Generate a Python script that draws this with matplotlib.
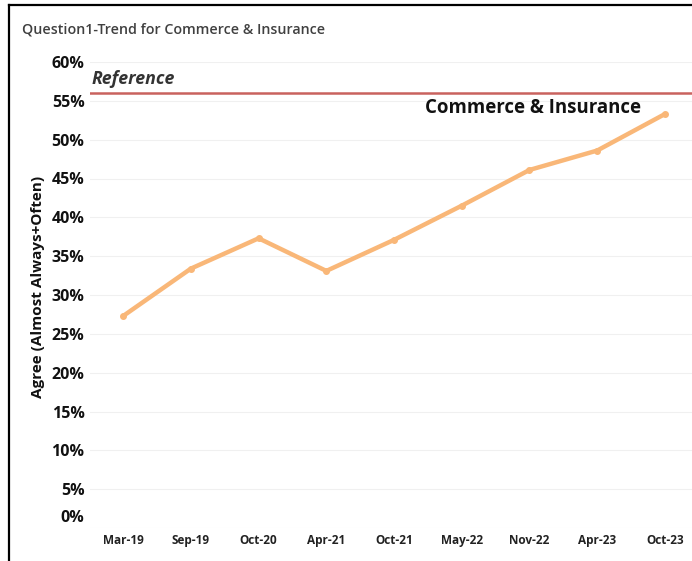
import matplotlib
matplotlib.use("Agg")
import matplotlib.pyplot as plt
import matplotlib.transforms as mtransforms
from matplotlib.lines import Line2D
from matplotlib.ticker import FuncFormatter

periods = ["Mar-19", "Sep-19", "Oct-20", "Apr-21", "Oct-21", "May-22", "Nov-22", "Apr-23", "Oct-23"]
agree = [27.3, 33.4, 37.3, 33.1, 37.1, 41.5, 46.1, 48.6, 53.3]
reference_value = 56.0
y_ticks = [0, 5, 10, 15, 20, 25, 30, 35, 40, 45, 50, 55, 60]

plt.rcParams['font.family'] = ['Open Sans', 'DejaVu Sans']

fig = plt.figure(figsize=(6.92, 5.61), dpi=100)
ax = fig.add_axes([90/692, 1 - 528/561, 1 - 90/692, (528 - 62)/561])

x = list(range(len(periods)))
ax.plot(x, agree, color="#F9B778", linewidth=3.2, marker="o", markersize=4,
        solid_capstyle="round", zorder=3)
ax.axhline(reference_value, color="#C9625E", linewidth=1.8, zorder=2)

ax.set_xlim(-0.49, 8.4)
ax.set_ylim(0, 60)
ax.set_yticks(y_ticks)
ax.yaxis.set_major_formatter(FuncFormatter(lambda v, p: f"{int(v)}%"))
ax.set_xticks(x)
ax.set_xticklabels(periods)
ax.grid(axis="y", color="#F0F0F0", linewidth=0.8)
ax.set_axisbelow(True)
for s in ax.spines.values():
    s.set_visible(False)
ax.tick_params(axis="both", length=0)
ax.tick_params(axis="y", pad=4, labelsize=11.5, labelcolor="#111111")
ax.tick_params(axis="x", pad=4, labelsize=8.5, labelcolor="#222222")
for lab in ax.get_yticklabels():
    lab.set_fontweight("bold")
for lab in ax.get_xticklabels():
    lab.set_fontweight("bold")
# shift 0% label up slightly as in reference
zero_lab = ax.get_yticklabels()[0]
zero_lab.set_transform(zero_lab.get_transform() +
                       mtransforms.ScaledTranslation(0, 12/100, fig.dpi_scale_trans))

ax.set_ylabel("Agree (Almost Always+Often)", fontsize=11, fontweight="bold",
              color="#111111", va="center")
ax.yaxis.set_label_coords(38/692, 1 - 287/561, transform=fig.transFigure)

fig.text(22/692, 1 - 30/561, "Question1-Trend for Commerce & Insurance",
         fontsize=10.3, fontweight="semibold", color="#404040", va="center", ha="left")
fig.text(92/692, 1 - 79/561, "Reference", fontsize=12.8, fontweight="bold",
         fontstyle="italic", color="#333333", va="center", ha="left")
fig.text(533/692, 1 - 108/561, "Commerce & Insurance", fontsize=13.4, fontweight="bold",
         color="#111111", va="center", ha="center")

# outer frame (left and top edges visible)
fig.add_artist(Line2D([9/692, 9/692], [0, 1 - 5/561], transform=fig.transFigure,
                      color="black", linewidth=1.6))
fig.add_artist(Line2D([9/692, 1], [1 - 5/561, 1 - 5/561], transform=fig.transFigure,
                      color="black", linewidth=1.6))

fig.savefig("out.png", dpi=100)
